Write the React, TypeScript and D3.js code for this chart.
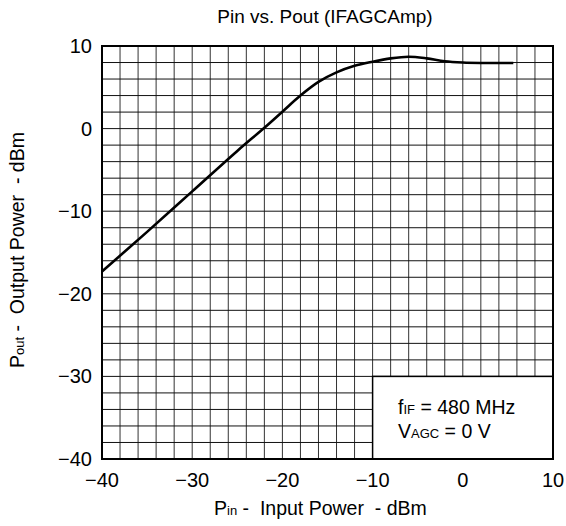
import React from "react";
import * as d3 from "d3";

const pinValues = [-40, -35, -30, -25, -22, -20, -18, -16, -14, -12, -10, -8, -6, -4, -2, 0, 2, 4, 5.6];
const poutValues = [-17.3, -12.5, -7.6, -2.7, 0.1, 2.05, 4.0, 5.65, 6.8, 7.6, 8.1, 8.5, 8.7, 8.5, 8.15, 8.0, 7.95, 7.95, 7.95];
const xTicks = [-40, -30, -20, -10, 0, 10];
const yTicks = [-40, -30, -20, -10, 0, 10];
const gridValues = d3.range(-40, 10.001, 2);

const W = 566, H = 526;
const FONT = "'Liberation Sans', Arial, Helvetica, sans-serif";

export default function App() {
  const x = d3.scaleLinear().domain([-40, 10]).range([102, 553]);
  const y = d3.scaleLinear().domain([-40, 10]).range([459, 46]);
  const pts = pinValues.map((p, i) => [p, poutValues[i]] as [number, number]);
  const line = d3.line<[number, number]>().x(d => x(d[0])).y(d => y(d[1])).curve(d3.curveCatmullRom.alpha(0.5));
  const fmt = (v: number) => (v < 0 ? "\u2212" + Math.abs(v) : String(v));

  return (
    <svg width={W} height={H} style={{ position: "absolute", left: 0, top: 0, background: "#fff" }} fontFamily={FONT}>
      <rect x={0} y={0} width={W} height={H} fill="#fff" />
      <text x={325} y={23} fontSize={19} textAnchor="middle" fill="#000">Pin vs. Pout (IFAGCAmp)</text>
      <g>
        {gridValues.map(v => (
          <line key={"gx" + v} x1={x(v)} x2={x(v)} y1={y(-40)} y2={y(10)} stroke="#333" strokeWidth={1} />
        ))}
        {gridValues.map(v => (
          <line key={"gy" + v} x1={x(-40)} x2={x(10)} y1={y(v)} y2={y(v)} stroke="#111" strokeWidth={1} />
        ))}
      </g>
      <rect x={x(-10)} y={y(-30)} width={x(10) - x(-10)} height={y(-40) - y(-30)} fill="#fff" stroke="#000" strokeWidth={1.5} />
      <path d={line(pts) || ""} fill="none" stroke="#000" strokeWidth={2.6} />
      <rect x={x(-40)} y={y(10)} width={x(10) - x(-40)} height={y(-40) - y(10)} fill="none" stroke="#000" strokeWidth={2} />
      {yTicks.map(v => (
        <text key={"yt" + v} x={92} y={y(v) + 7} fontSize={20} textAnchor="end" fill="#000">{fmt(v)}</text>
      ))}
      {xTicks.map(v => (
        <text key={"xt" + v} x={x(v)} y={487} fontSize={20} textAnchor="middle" fill="#000">{fmt(v)}</text>
      ))}
      <text x={214} y={515} fontSize={19.5} textAnchor="start" fill="#000" xmlSpace="preserve">
        <tspan>P</tspan><tspan fontSize={13}>in</tspan><tspan>{" -  Input Power  - dBm"}</tspan>
      </text>
      <text transform={`translate(24,368) rotate(-90)`} fontSize={19.5} textAnchor="start" fill="#000" xmlSpace="preserve">
        <tspan>P</tspan><tspan fontSize={13}>out</tspan><tspan>{" -  Output Power  - dBm"}</tspan>
      </text>
      <text x={398} y={414} fontSize={19.5} fill="#000">
        <tspan>f</tspan><tspan fontSize={13}>IF</tspan><tspan>{" = 480 MHz"}</tspan>
      </text>
      <text x={398} y={438} fontSize={19.5} fill="#000">
        <tspan>V</tspan><tspan fontSize={13}>AGC</tspan><tspan>{" = 0 V"}</tspan>
      </text>
    </svg>
  );
}
